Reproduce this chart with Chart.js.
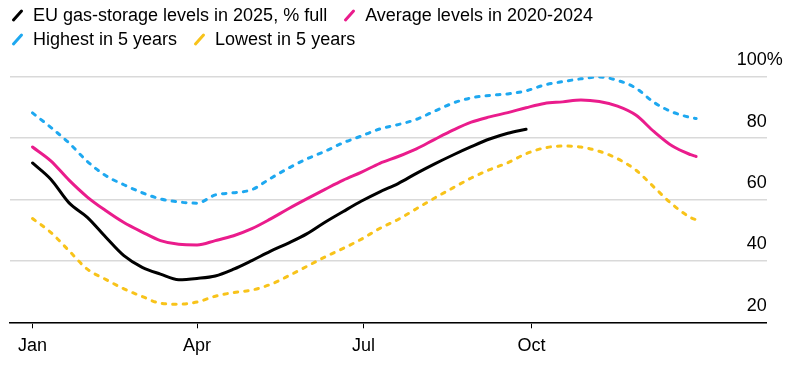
<!DOCTYPE html>
<html>
<head>
<meta charset="utf-8">
<script src="https://cdn.jsdelivr.net/npm/chart.js@4"></script>
<style>
    html, body { margin: 0; padding: 0; background: #fff; }
    #wrap { position: relative; width: 812px; height: 368px; overflow: hidden; }
    #chart { position: absolute; left: 0; top: 0; }
    #legend {
        position: absolute; left: 0; top: 3px;
        font-family: "Liberation Sans", Arial, sans-serif; font-size: 18px; color: #000;
    }
    .row { display: flex; align-items: center; height: 24px; white-space: nowrap; }
    .item { display: flex; align-items: center; margin-right: 6px; }
    .key {
        display: inline-block; width: 3px; height: 15px; border-radius: 2px;
        transform: rotate(42deg); margin: 0 14px 0 16px;
    }
</style>
</head>
<body>
<div id="wrap">
    <canvas id="chart" width="812" height="368"></canvas>
    <div id="legend"></div>
</div>
<script>
// day of year for each reading (0 = 1 Jan)
const days = [0, 10, 20, 30, 40, 50, 60, 70, 80, 90, 100, 110, 120, 130, 140, 150, 160, 170, 180,
    190, 200, 210, 220, 230, 240, 250, 260, 270, 280, 290, 300, 310, 320, 330, 340, 350, 360, 363];

const storage2025 = [71.9, 66.6, 58.9, 54.2, 47.8, 41.7, 37.9, 35.7, 33.9, 34.3, 35.1, 37.3, 40.1, 43.1,
    45.8, 48.8, 52.6, 56.1, 59.5, 62.5, 65.2, 68.5, 71.6, 74.5, 77.2, 79.7, 81.6, 82.9,
    null, null, null, null, null, null, null, null, null, null];

const avg2020to2024 = [77.1, 72.6, 66.3, 60.8, 56.4, 52.5, 49.4, 46.6, 45.4, 45.2, 46.6, 48.2, 50.5, 53.6,
    57.0, 60.2, 63.3, 66.3, 68.9, 71.8, 74.0, 76.5, 79.6, 82.6, 85.2, 86.9, 88.3, 89.9,
    91.3, 91.8, 92.4, 91.9, 90.4, 87.5, 82.1, 77.4, 74.6, 74.0];

const highest5y = [88.2, 83.5, 78.4, 72.4, 67.8, 64.8, 62.2, 60.2, 59.2, 58.8, 61.5, 62.2, 63.2, 66.8,
    70.2, 73.2, 75.7, 78.5, 80.7, 83.0, 84.4, 86.1, 88.8, 91.4, 93.1, 93.9, 94.4, 95.4,
    97.3, 98.4, 99.3, 99.9, 98.8, 96.3, 91.6, 88.5, 86.7, 86.4];

const lowest5y = [53.8, 49.3, 43.3, 37.3, 34.0, 30.9, 28.4, 26.2, 25.9, 26.6, 28.5, 29.7, 30.5, 32.3,
    35.1, 38.2, 41.3, 44.1, 47.1, 50.6, 53.5, 57.0, 60.5, 63.8, 67.0, 69.7, 72.0, 74.9,
    76.8, 77.4, 77.1, 75.7, 73.3, 69.6, 64.0, 58.4, 54.1, 53.4];

const monthTicks = [0, 90, 181, 273];
const monthLabels = ["Jan", "Apr", "Jul", "Oct"];
const yTicks = [20, 40, 60, 80, 100];

const FONT = "Liberation Sans, Arial, sans-serif";

const series = [
    { label: "EU gas-storage levels in 2025, % full", values: storage2025, color: "#000000", dash: [] },
    { label: "Average levels in 2020-2024", values: avg2020to2024, color: "#ea1c8c", dash: [] },
    { label: "Highest in 5 years", values: highest5y, color: "#1ea8f0", dash: [3.5, 7] },
    { label: "Lowest in 5 years", values: lowest5y, color: "#f8c31a", dash: [3.5, 7] }
];

function toPoints(values) {
    return days.map((d, i) => ({ x: d, y: values[i] })).filter(p => p.y !== null);
}

// ── Leyenda (2 filas) ─────────────────────────────────────
function buildLegend() {
    const legend = document.getElementById("legend");
    const rows = [[series[0], series[1]], [series[2], series[3]]];
    rows.forEach(r => {
        const row = document.createElement("div");
        row.className = "row";
        r.forEach((s, j) => {
            const item = document.createElement("div");
            item.className = "item";
            item.innerHTML = `<span class="key" style="background:${s.color};${j ? "margin-left:15px" : ""}"></span><span>${s.label}</span>`;
            row.appendChild(item);
        });
        legend.appendChild(row);
    });
}

// y labels sit above their gridline, right aligned
const yLabels = {
    id: "yLabels",
    afterDraw(chart) {
        const { ctx, chartArea, scales } = chart;
        ctx.save();
        ctx.font = `18px ${FONT}`;
        ctx.fillStyle = "#000";
        ctx.textBaseline = "middle";
        yTicks.forEach(v => {
            const y = scales.y.getPixelForValue(v) - 16.5;
            ctx.textAlign = "right";
            ctx.fillText(String(v), chartArea.right, y);
            if (v === 100) {
                ctx.textAlign = "left";
                ctx.fillText("%", chartArea.right, y);
            }
        });
        ctx.restore();
    }
};

const drawOrder = [3, 2, 1, 0];

new Chart(document.getElementById("chart"), {
    type: "line",
    data: {
        datasets: drawOrder.map(i => {
            const s = series[i];
            return {
                label: s.label,
                data: toPoints(s.values),
                borderColor: s.color,
                borderWidth: 3,
                borderDash: s.dash,
                borderCapStyle: "round",
                borderJoinStyle: "round",
                pointRadius: 0,
                tension: 0.4,
                cubicInterpolationMode: "monotone",
                fill: false
            };
        })
    },
    options: {
        responsive: false,
        animation: false,
        events: [],
        layout: { padding: { left: 10, right: 45.3, top: 76.7, bottom: 0 } },
        plugins: { legend: { display: false }, tooltip: { enabled: false } },
        scales: {
            x: {
                type: "linear",
                min: -12.3,
                max: 401.6,
                afterBuildTicks: scale => { scale.ticks = monthTicks.map(v => ({ value: v })); },
                afterFit: scale => { scale.height = 45.7; },
                ticks: {
                    autoSkip: false,
                    maxRotation: 0,
                    padding: 7,
                    color: "#000",
                    font: { family: FONT, size: 18 },
                    callback: v => monthLabels[monthTicks.indexOf(v)] ?? ""
                },
                grid: { drawOnChartArea: false, drawTicks: true, tickLength: 6, color: "#000", lineWidth: 1 },
                border: { display: true, color: "#000", width: 1.5 }
            },
            y: {
                position: "right",
                min: 20,
                max: 100,
                afterBuildTicks: scale => { scale.ticks = yTicks.map(v => ({ value: v })); },
                afterFit: scale => { scale.width = 0; },
                ticks: { display: false },
                grid: { color: "#d9d9d9", lineWidth: 1.5, drawTicks: false },
                border: { display: false }
            }
        }
    },
    plugins: [yLabels]
});

buildLegend();
</script>
</body>
</html>
